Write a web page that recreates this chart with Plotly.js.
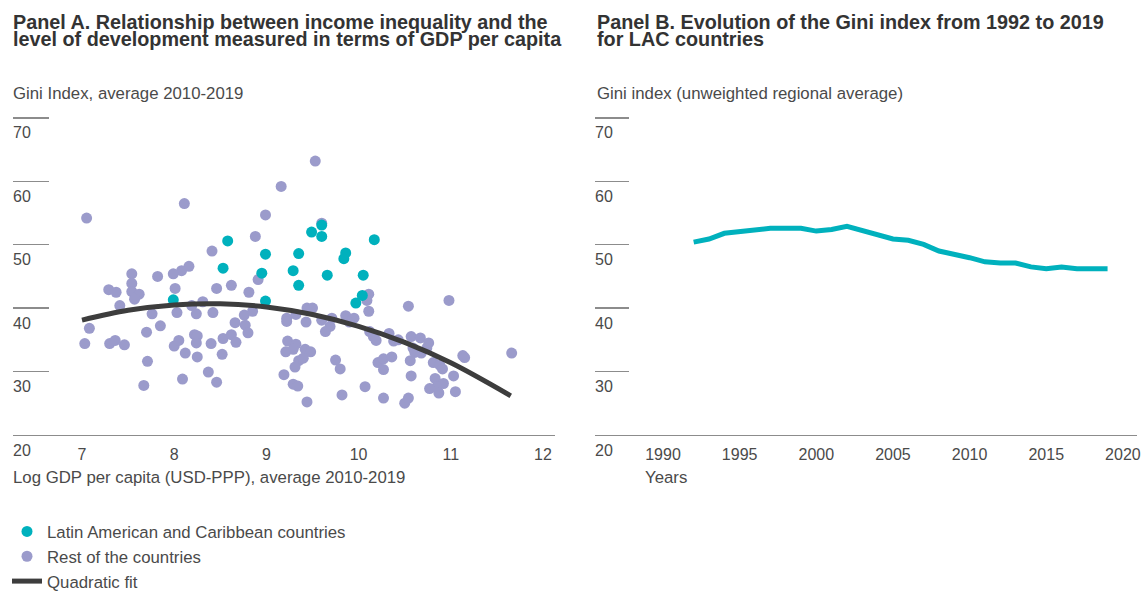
<!DOCTYPE html>
<html>
<head>
<meta charset="utf-8">
<script src="https://cdn.plot.ly/plotly-3.0.1.min.js"></script>
<style>
html,body{margin:0;padding:0;background:#fff;width:1148px;height:599px;overflow:hidden;}
#chart{position:absolute;left:0;top:0;width:1148px;height:599px;overflow:hidden;}
</style>
</head>
<body>
<div id="chart"></div>
<script>
// ---------- DATA ----------
// Panel A: LAC countries (log GDP per capita, Gini)
const lacX = [8.58, 8.53, 8.99, 8.95, 9.35, 9.29, 9.35, 7.99, 8.99, 9.60, 9.49, 9.60, 10.17, 9.86, 9.84, 9.66, 10.05, 10.04, 9.97];
const lacY = [50.6, 46.3, 48.5, 45.5, 48.6, 45.9, 43.6, 41.3, 41.1, 53.1, 52.0, 51.3, 50.8, 48.7, 47.8, 45.2, 45.2, 42.0, 40.8];

// Panel A: rest of the countries
const restX = [7.05, 8.11, 9.16, 8.99, 8.88, 8.41, 8.16, 8.08, 7.99, 7.82, 7.54, 7.54, 7.54, 7.62, 7.29, 7.37, 8.01, 8.46, 8.62, 8.81, 8.91, 7.57, 8.31,
  9.53, 9.60, 10.11, 10.98, 10.09,
  7.41, 7.76, 8.03, 8.19, 8.24, 8.42, 8.76, 8.85, 8.66, 8.77, 8.80, 9.22, 9.32, 7.08, 7.03, 7.30, 7.36, 7.46, 7.70, 7.85, 7.71, 7.67,
  8.00, 8.05, 8.12, 8.22, 8.25, 8.24, 8.25, 8.09, 8.40, 8.37, 8.46, 8.53, 8.62, 8.67, 8.52, 9.23, 9.32, 9.21, 9.29, 9.35, 9.31, 9.19, 9.29, 9.34,
  10.11, 10.54, 9.44, 9.50, 9.22, 9.43, 9.60, 9.71, 9.69, 9.64, 9.86, 9.95, 9.90, 10.12, 10.16, 10.19, 10.33, 10.38, 10.43, 10.57, 10.67, 10.76,
  10.74, 10.59, 10.61, 10.68, 10.56, 9.42, 9.48, 9.40, 9.44, 9.75, 9.80, 9.82, 10.07, 10.21, 10.27, 10.36, 10.27, 10.27, 10.50, 10.54, 10.57,
  10.81, 10.88, 10.91, 10.83, 10.92, 10.85, 10.77, 10.87, 11.03, 11.05, 11.13, 11.15, 11.66];
const restY = [54.2, 56.5, 59.2, 54.7, 51.3, 49.0, 46.6, 45.9, 45.4, 45.0, 45.4, 43.9, 42.6, 42.2, 42.9, 42.5, 43.1, 43.1, 43.6, 42.5, 44.5, 41.4, 41.0,
  63.2, 53.4, 42.2, 41.2, 41.2,
  40.4, 39.1, 39.3, 40.4, 39.1, 39.3, 38.9, 39.5, 37.7, 37.3, 36.1, 38.4, 39.0, 36.8, 34.4, 34.4, 34.9, 34.2, 36.2, 37.2, 31.6, 27.8,
  34.0, 34.9, 32.9, 35.8, 35.6, 34.5, 32.3, 28.8, 34.4, 29.9, 28.3, 35.2, 35.8, 34.6, 32.7, 34.8, 34.3, 33.1, 33.5, 31.7, 30.7, 29.5, 28.0, 27.7,
  39.5, 40.3, 40.0, 40.0, 37.9, 37.8, 38.1, 38.4, 37.1, 36.3, 38.8, 38.4, 37.8, 36.3, 35.5, 34.9, 36.0, 34.8, 35.0, 35.5, 35.3, 34.5,
  33.7, 33.7, 33.0, 32.9, 31.7, 33.5, 33.1, 32.1, 25.2, 31.8, 30.4, 26.3, 27.6, 31.4, 32.0, 32.3, 30.3, 25.8, 25.0, 25.8, 29.3,
  31.4, 31.0, 30.4, 28.9, 28.1, 27.6, 27.3, 26.6, 29.3, 26.8, 32.5, 32.2, 32.9];

// Panel A: quadratic fit
const fitX = [7.0, 7.5, 8.0, 8.5, 9.0, 9.5, 10.0, 10.5, 11.0, 11.65];
const fitY = [38.1, 39.65, 40.5, 40.68, 40.18, 38.99, 37.13, 34.59, 31.37, 26.16];

// Panel B: Gini index, unweighted LAC average
const years = [1992, 1993, 1994, 1995, 1996, 1997, 1998, 1999, 2000, 2001, 2002, 2003, 2004, 2005, 2006, 2007, 2008, 2009, 2010, 2011, 2012, 2013, 2014, 2015, 2016, 2017, 2018, 2019];
const gini = [50.4, 50.9, 51.8, 52.05, 52.35, 52.6, 52.6, 52.6, 52.15, 52.4, 52.9, 52.3, 51.7, 50.9, 50.7, 50.05, 49.0, 48.5, 47.95, 47.3, 47.1, 47.1, 46.5, 46.2, 46.5, 46.2, 46.2, 46.2];

// Tick values / labels
const yTicks = [20, 30, 40, 50, 60, 70];
const xTicksA = [7, 8, 9, 10, 11, 12];
const xTicksB = [1990, 1995, 2000, 2005, 2010, 2015, 2020];

// ---------- STYLE ----------
const FONT = 'Liberation Sans, Arial, Helvetica, sans-serif';
const TEXT = '#4a4a4a';
const TITLE = '#333333';
const TEAL = '#00b1bd';
const PURPLE = '#9b9bcb';
const GRID = '#8c8c8c';
const W = 1148, H = 599;
const px = v => v / W;
const py = v => 1 - v / H;

const traces = [
  {type: 'scatter', mode: 'markers', x: restX, y: restY, xaxis: 'x', yaxis: 'y',
   name: 'Rest of the countries', legendrank: 2,
   marker: {color: PURPLE, size: 11, line: {width: 0}}, hoverinfo: 'skip'},
  {type: 'scatter', mode: 'markers', x: lacX, y: lacY, xaxis: 'x', yaxis: 'y',
   name: 'Latin American and Caribbean countries', legendrank: 1,
   marker: {color: TEAL, size: 11, line: {width: 0}}, hoverinfo: 'skip'},
  {type: 'scatter', mode: 'lines', x: fitX, y: fitY, xaxis: 'x', yaxis: 'y',
   name: 'Quadratic fit', legendrank: 3,
   line: {color: '#3d3d3d', width: 5, shape: 'spline'}, hoverinfo: 'skip'},
  {type: 'scatter', mode: 'lines', x: years, y: gini, xaxis: 'x2', yaxis: 'y2',
   showlegend: false, line: {color: TEAL, width: 5}, hoverinfo: 'skip'}
];

function xAxis(domain, range, tickvals) {
  return {domain: domain, range: range, tickvals: tickvals, ticktext: tickvals.map(String),
    showgrid: false, zeroline: false, showline: true, linecolor: GRID, linewidth: 1.3,
    ticks: '', ticklabelstandoff: 5, tickfont: {family: FONT, size: 16, color: TEXT}, fixedrange: true};
}
function yAxis(anchor, len) {
  return {domain: [py(446), py(108)], range: [20, 72], anchor: anchor, tickvals: yTicks.slice(1),
    showgrid: false, zeroline: false, showline: false, ticks: 'inside', ticklen: len,
    tickwidth: 1.3, tickcolor: GRID, showticklabels: false, fixedrange: true};
}

const annotations = [];
function txt(text, x, y, size, color, bold) {
  annotations.push({text: bold ? '<b>' + text + '</b>' : text, xref: 'paper', yref: 'paper',
    x: px(x), y: py(y), xanchor: 'left', yanchor: 'middle', showarrow: false,
    font: {family: FONT, size: size, color: color}});
}
txt('Panel A. Relationship between income inequality and the', 11, 23, 19.8, TITLE, true);
txt('level of development measured in terms of GDP per capita', 11, 40, 19.8, TITLE, true);
txt('Panel B. Evolution of the Gini index from 1992 to 2019', 595, 23, 19.8, TITLE, true);
txt('for LAC countries', 595, 40, 19.8, TITLE, true);
txt('Gini Index, average 2010-2019', 11, 96, 16.8, TEXT, false);
txt('Gini index (unweighted regional average)', 595, 96, 16.8, TEXT, false);
txt('Log GDP per capita (USD-PPP), average 2010-2019', 11, 490, 16.8, TEXT, false);
txt('Years', 643, 490, 16.8, TEXT, false);

[['x domain', 'y'], ['x2 domain', 'y2']].forEach(([xr, yr]) => {
  yTicks.forEach(v => {
    annotations.push({text: String(v), xref: xr, yref: yr, x: 0, y: v, xshift: -2,
      yshift: v === 20 ? -16 : -15, xanchor: 'left', yanchor: 'middle', showarrow: false,
      font: {family: FONT, size: 16, color: TEXT}});
  });
});

const layout = {
  width: W, height: H, margin: {l: 0, r: 0, t: 0, b: 0},
  paper_bgcolor: '#ffffff', plot_bgcolor: '#ffffff',
  font: {family: FONT, color: TEXT},
  xaxis: Object.assign(xAxis([px(13), px(555)], [6.2516, 12.130], xTicksA), {anchor: 'y'}),
  yaxis: yAxis('x', 36),
  xaxis2: Object.assign(xAxis([px(595), px(1137)], [1985.564, 2020.92], xTicksB), {anchor: 'y2'}),
  yaxis2: yAxis('x2', 34),
  showlegend: true,
  legend: {orientation: 'v', x: px(7), xanchor: 'left', y: py(527.5), yanchor: 'top',
    bgcolor: 'rgba(0,0,0,0)', font: {family: FONT, size: 16.8, color: TEXT}, itemclick: false, itemdoubleclick: false},
  annotations: annotations,
  hovermode: false
};

Plotly.newPlot('chart', traces, layout, {displayModeBar: false, staticPlot: true});
</script>
</body>
</html>
